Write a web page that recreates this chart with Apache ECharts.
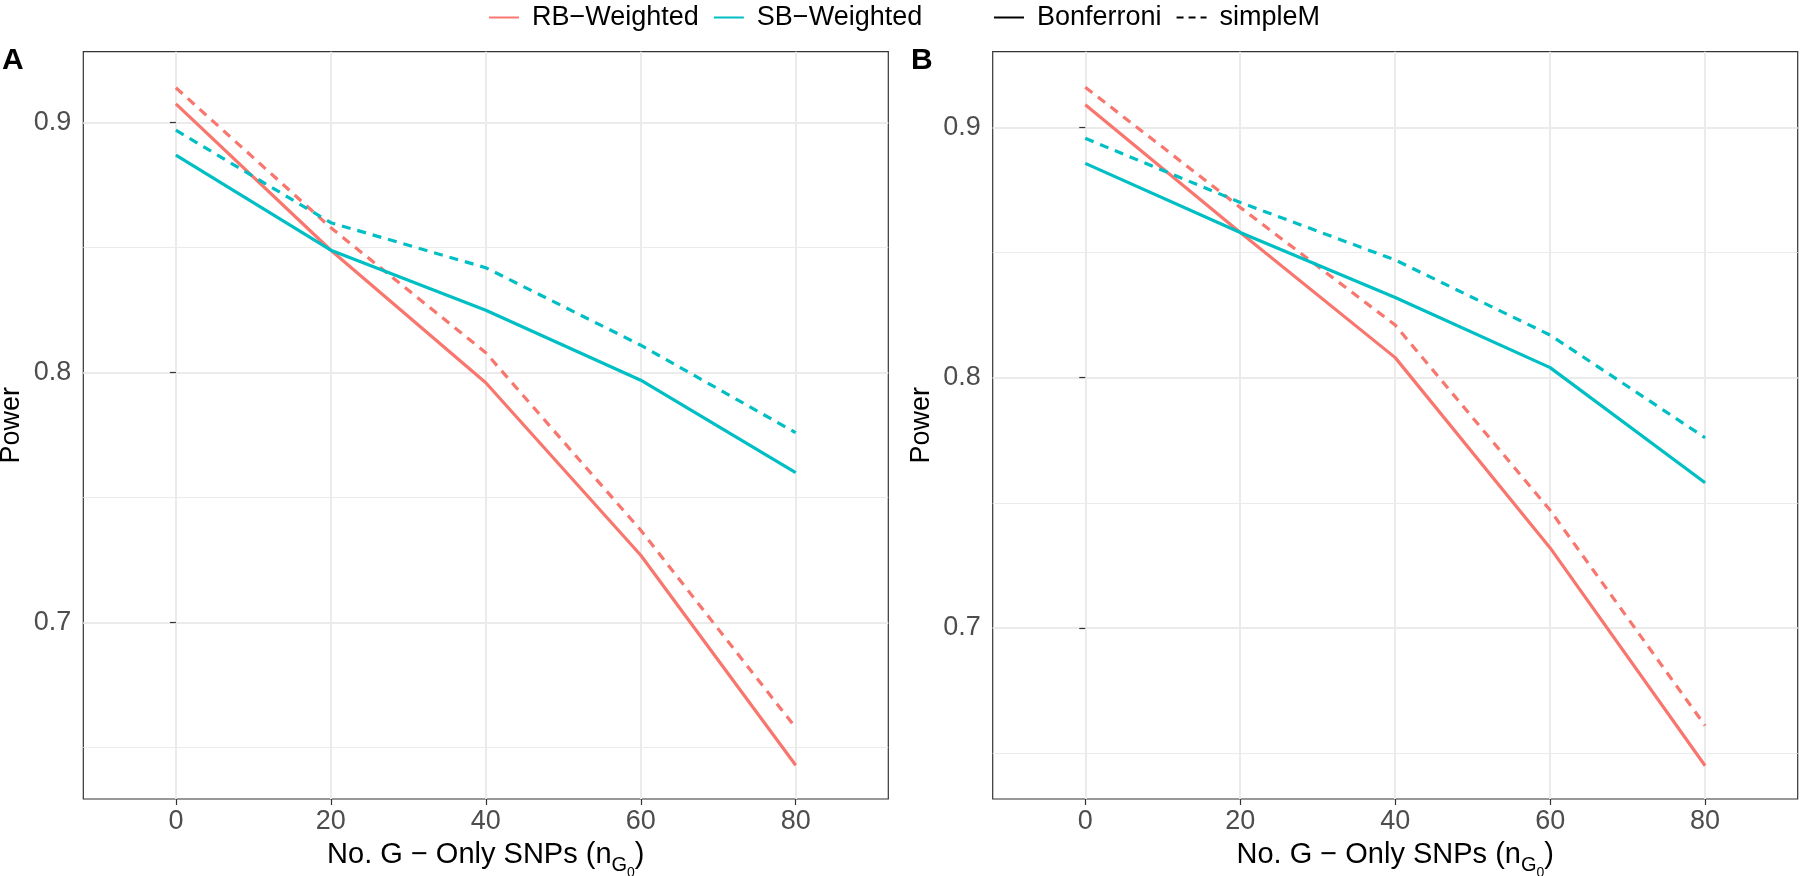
<!DOCTYPE html>
<html><head><meta charset="utf-8">
<script src="https://cdn.jsdelivr.net/npm/echarts@6/dist/echarts.min.js"></script>
<style>html,body{margin:0;padding:0;background:#fff}#c{width:1800px;height:876px}</style>
</head><body><div id="c"></div>
<script>
// ---- data ----
const xValues = [0, 20, 40, 60, 80];
const xTicks = [0, 20, 40, 60, 80];
const yTicks = [0.7, 0.8, 0.9];
const yMinorTicks = [0.65, 0.75, 0.85];
const panelLabels = ['A', 'B'];
const groupNames = ['RB−Weighted', 'SB−Weighted'];
const methodNames = ['Bonferroni', 'simpleM'];

const A_RB_Bonferroni = [0.9075, 0.849, 0.796, 0.727, 0.643];
const A_RB_simpleM    = [0.914, 0.858, 0.808, 0.737, 0.658];
const A_SB_Bonferroni = [0.887, 0.849, 0.825, 0.797, 0.760];
const A_SB_simpleM    = [0.897, 0.860, 0.842, 0.811, 0.776];

const B_RB_Bonferroni = [0.909, 0.858, 0.808, 0.732, 0.645];
const B_RB_simpleM    = [0.916, 0.868, 0.821, 0.747, 0.661];
const B_SB_Bonferroni = [0.8856, 0.858, 0.832, 0.804, 0.758];
const B_SB_simpleM    = [0.8956, 0.870, 0.847, 0.817, 0.776];

const panelData = [
  [[A_RB_Bonferroni, A_RB_simpleM], [A_SB_Bonferroni, A_SB_simpleM]],
  [[B_RB_Bonferroni, B_RB_simpleM], [B_SB_Bonferroni, B_SB_simpleM]]
];

// ---- styling ----
const FONT = '"Liberation Sans", Arial, Helvetica, sans-serif';
const groupColors = ['#F8766D', '#00BFC4'];
const methodTypes = ['solid', [9, 7]];
const panelGeom = [
  {left: 83.3, top: 51.7, width: 805, height: 747.3, ymin: 0.6295, ymax: 0.9284},
  {left: 992.7, top: 51.7, width: 805, height: 747.3, ymin: 0.6317, ymax: 0.9302}
];
const xMin = -11.95, xMax = 91.95;

const grids = [], xAxes = [], yAxes = [], series = [];
panelGeom.forEach((g, p) => {
  grids.push({left: g.left, top: g.top, width: g.width, height: g.height,
    show: true, borderColor: '#333333', borderWidth: 1.2, backgroundColor: 'transparent',
    containLabel: false, outerBoundsMode: 'none'});
  xAxes.push({
    gridIndex: p, type: 'value', min: xMin, max: xMax,
    axisLine: {show: false},
    axisTick: {show: true, length: 6, lineStyle: {color: '#333333', width: 1.2}, customValues: xTicks},
    axisLabel: {customValues: xTicks, color: '#4D4D4D', fontSize: 27, fontFamily: FONT, margin: 9},
    splitLine: {show: true, lineStyle: {color: '#EBEBEB', width: 2}},
    name: '{m|No. G − Only SNPs (n}{s|G}{ss|0}{m|)}',
    nameLocation: 'middle', nameGap: 41,
    nameTextStyle: {
      rich: {
        m: {fontSize: 29, fontFamily: FONT, color: '#000', lineHeight: 34, verticalAlign: 'top'},
        s: {fontSize: 20, fontFamily: FONT, color: '#000', lineHeight: 24, verticalAlign: 'top', padding: [15, 0, 0, 0]},
        ss: {fontSize: 14, fontFamily: FONT, color: '#000', lineHeight: 16, verticalAlign: 'top', padding: [26, 0, 0, 0]}
      }
    }
  });
  yAxes.push({
    gridIndex: p, type: 'value', min: g.ymin, max: g.ymax, position: 'left',
    axisLine: {show: false},
    axisTick: {show: true, length: 6, lineStyle: {color: '#333333', width: 1.2}, customValues: yTicks},
    axisLabel: {customValues: yTicks, color: '#4D4D4D', fontSize: 27, fontFamily: FONT, margin: 12},
    splitLine: {show: true, lineStyle: {color: '#EBEBEB', width: 2}},
    name: 'Power', nameLocation: 'middle', nameGap: 58, nameRotate: 90,
    nameTextStyle: {fontSize: 27, fontFamily: FONT, color: '#000'}
  });
  yAxes.push({
    gridIndex: p, type: 'value', min: g.ymin, max: g.ymax, position: 'right',
    axisLine: {show: false},
    axisTick: {show: false, customValues: yMinorTicks},
    axisLabel: {show: false, customValues: yMinorTicks},
    splitLine: {show: true, lineStyle: {color: '#EBEBEB', width: 1.1}}
  });
  groupNames.forEach((gn, gi) => {
    methodNames.forEach((mn, mi) => {
      const vals = panelData[p][gi][mi];
      series.push({
        name: panelLabels[p] + ' ' + gn + ' ' + mn,
        type: 'line', xAxisIndex: p, yAxisIndex: 2 * p,
        data: xValues.map((x, i) => [x, vals[i]]),
        symbol: 'none', smooth: false, silent: true,
        lineStyle: {color: groupColors[gi], width: 3.2, type: methodTypes[mi], cap: 'butt'},
        itemStyle: {color: groupColors[gi]},
        z: 3
      });
    });
  });
});

// legend-only series
const legendSeries = [
  {name: groupNames[0], color: groupColors[0], type: 'solid'},
  {name: groupNames[1], color: groupColors[1], type: 'solid'},
  {name: methodNames[0], color: '#000000', type: 'solid'},
  {name: methodNames[1], color: '#000000', type: [7, 5]}
];
legendSeries.forEach(ls => {
  series.push({
    name: ls.name, type: 'line', xAxisIndex: 0, yAxisIndex: 0, data: [],
    symbol: 'none', lineStyle: {color: ls.color, width: 3.2, type: ls.type}, itemStyle: {color: ls.color}
  });
});

const legendCommon = {
  top: -1, orient: 'horizontal', itemWidth: 30, itemHeight: 14, itemGap: 14, selectedMode: false,
  itemStyle: {color: 'transparent', borderColor: 'transparent', borderWidth: 0, opacity: 0},
  textStyle: {fontSize: 27, fontFamily: FONT, color: '#000', padding: [0, 0, 0, 8]}
};

const option = {
  animation: false,
  backgroundColor: '#ffffff',
  grid: grids, xAxis: xAxes, yAxis: yAxes, series: series,
  legend: [
    Object.assign({}, legendCommon, {left: 483, data: groupNames}),
    Object.assign({}, legendCommon, {left: 988, data: methodNames})
  ],
  graphic: [
    {type: 'text', x: 2, y: 61, style: {text: panelLabels[0], font: 'bold 30px ' + FONT, fill: '#000', verticalAlign: 'middle'}},
    {type: 'text', x: 911, y: 61, style: {text: panelLabels[1], font: 'bold 30px ' + FONT, fill: '#000', verticalAlign: 'middle'}}
  ]
};

const chart = echarts.init(document.getElementById('c'), null, {renderer: 'canvas'});
chart.setOption(option);
</script>
</body></html>
